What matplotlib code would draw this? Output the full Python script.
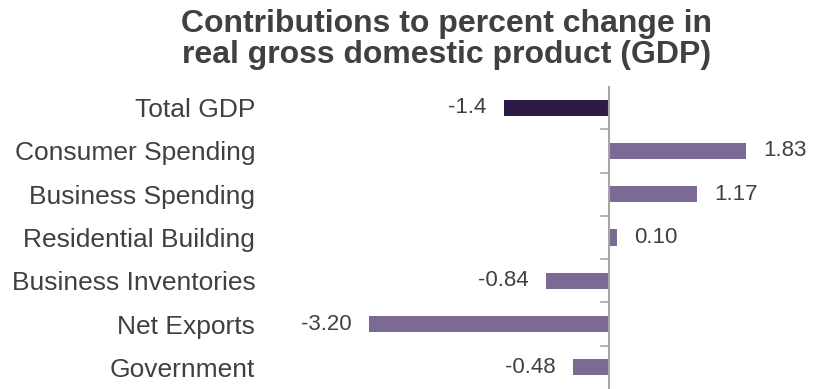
import numpy as np
import matplotlib
matplotlib.use('Agg')
import matplotlib.pyplot as plt

categories = ['Total GDP', 'Consumer Spending', 'Business Spending', 'Residential Building',
              'Business Inventories', 'Net Exports', 'Government']
values = [-1.4, 1.83, 1.17, 0.10, -0.84, -3.20, -0.48]
value_labels = ['-1.4', '1.83', '1.17', '0.10', '-0.84', '-3.20', '-0.48']

plt.rcParams['font.family'] = ['Liberation Sans', 'DejaVu Sans']

fig = plt.figure(figsize=(8.13, 3.89), dpi=100)
W, H = 813.0, 389.0
ax = fig.add_axes([265 / W, 0.0, (W - 265) / W, (389 - 86) / H])

colors = ['#2e1a47'] + ['#7b6a93'] * (len(values) - 1)
y = np.arange(len(categories))
ax.barh(y, values, height=0.37, color=colors)

ax.set_ylim(len(categories) - 0.5, -0.5)
ax.set_xlim(-(609 - 265) / 75.0, (813 - 609) / 75.0)

for yi, v, lab in zip(y, values, value_labels):
    if v >= 0:
        ax.text(v + 0.23, yi, lab, ha='left', va='center', fontsize=16, color='#404040')
    else:
        ax.text(v - 0.23, yi, lab, ha='right', va='center', fontsize=16, color='#404040')

for s in ['top', 'right', 'bottom', 'left']:
    ax.spines[s].set_visible(False)
ax.axvline(0, color='#a6a6a6', lw=1.5)
for b in np.arange(0.5, len(categories) - 1, 1.0):
    ax.plot([-0.11, 0], [b, b], color='#a6a6a6', lw=1.2)

ax.set_xticks([])
ax.set_yticks(y)
ax.set_yticklabels(categories, fontsize=19, color='#404040')
ax.tick_params(axis='y', length=0, pad=7)

fig.text(0.549, 0.977, 'Contributions to percent change in\nreal gross domestic product (GDP)',
         ha='center', va='top', fontsize=23, fontweight='bold', color='#404040', linespacing=1.05)

plt.savefig('out.png', dpi=100)
